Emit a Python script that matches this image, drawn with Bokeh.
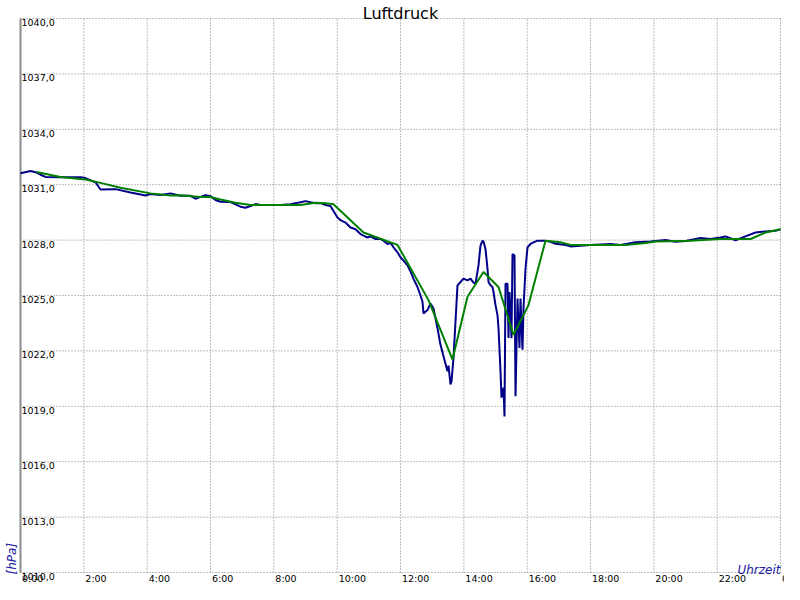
import math
from bokeh.plotting import figure
from bokeh.models import Label
from bokeh.embed import file_html
from bokeh.resources import INLINE

# ---- data ----
title_text = "Luftdruck"
y_label = "[hPa]"
x_label = "Uhrzeit"

x_ticks = [0, 2, 4, 6, 8, 10, 12, 14, 16, 18, 20, 22, 24]
x_tick_labels = ["0:00", "2:00", "4:00", "6:00", "8:00", "10:00", "12:00",
                 "14:00", "16:00", "18:00", "20:00", "22:00", "0:00"]
y_ticks = [1010, 1013, 1016, 1019, 1022, 1025, 1028, 1031, 1034, 1037, 1040]
y_tick_labels = ["1010,0", "1013,0", "1016,0", "1019,0", "1022,0", "1025,0",
                 "1028,0", "1031,0", "1034,0", "1037,0", "1040,0"]

# measured pressure (hours, hPa)
raw_hours = [0.0, 0.316, 0.505, 0.632, 0.789, 1.263, 1.895, 2.053, 2.368, 2.526,
             3.0, 3.474, 3.947, 4.105, 4.421, 4.737, 5.053, 5.368, 5.526, 5.684,
             5.842, 6.0, 6.158, 6.316, 6.632, 6.947, 7.105, 7.263, 7.421, 7.579,
             7.895, 8.211, 8.526, 8.842, 9.0, 9.158, 9.316, 9.474, 9.632, 9.789,
             9.884, 9.947, 10.011, 10.105, 10.263, 10.421, 10.579, 10.737, 10.832, 10.958,
             11.053, 11.211, 11.368, 11.463, 11.589, 11.684, 11.779, 11.905, 12.0, 12.095,
             12.221, 12.316, 12.411, 12.537, 12.632, 12.695, 12.726, 12.853, 12.947, 13.042,
             13.168, 13.263, 13.358, 13.484, 13.516, 13.579, 13.611, 13.674, 13.737, 13.8,
             13.895, 13.989, 14.116, 14.211, 14.305, 14.368, 14.463, 14.526, 14.589, 14.621,
             14.684, 14.747, 14.779, 14.842, 14.905, 14.937, 15.0, 15.063, 15.095, 15.158,
             15.189, 15.253, 15.284, 15.316, 15.379, 15.411, 15.442, 15.505, 15.537, 15.6,
             15.632, 15.695, 15.758, 15.789, 15.853, 15.884, 15.947, 16.011, 16.105, 16.2,
             16.326, 16.579, 16.737, 16.895, 17.21, 17.368, 17.684, 18.0, 18.632, 18.947,
             19.421, 19.895, 20.368, 20.684, 21.0, 21.474, 21.789, 22.105, 22.263, 22.579,
             22.895, 23.211, 23.526, 23.842, 24.0]
raw_hpa = [1031.62, 1031.74, 1031.66, 1031.54, 1031.42, 1031.40, 1031.40, 1031.36, 1031.13, 1030.74,
           1030.76, 1030.58, 1030.42, 1030.49, 1030.44, 1030.53, 1030.40, 1030.40, 1030.24, 1030.34,
           1030.43, 1030.38, 1030.17, 1030.08, 1030.06, 1029.81, 1029.75, 1029.84, 1029.95, 1029.90,
           1029.90, 1029.90, 1029.94, 1030.05, 1030.11, 1030.05, 1030.00, 1030.00, 1029.90, 1029.84,
           1029.58, 1029.40, 1029.22, 1029.08, 1028.95, 1028.68, 1028.59, 1028.33, 1028.24, 1028.14,
           1028.20, 1028.06, 1028.06, 1027.97, 1027.79, 1027.85, 1027.61, 1027.34, 1027.07, 1026.89,
           1026.63, 1026.30, 1025.90, 1025.46, 1025.00, 1024.66, 1024.03, 1024.21, 1024.57, 1024.30,
           1023.23, 1022.33, 1021.71, 1020.90, 1021.20, 1020.19, 1020.35, 1021.62, 1023.59, 1025.55,
           1025.73, 1025.91, 1025.82, 1025.91, 1025.70, 1025.64, 1026.63, 1027.70, 1027.97, 1027.92,
           1027.52, 1026.45, 1025.73, 1025.55, 1025.46, 1025.19, 1024.48, 1023.94, 1023.23, 1020.90,
           1019.47, 1020.01, 1018.45, 1025.64, 1025.64, 1022.70, 1025.19, 1022.69, 1027.25, 1027.16,
           1019.55, 1024.84, 1022.16, 1024.84, 1022.06, 1024.30, 1026.45, 1027.61, 1027.79, 1027.88,
           1027.97, 1027.97, 1027.91, 1027.80, 1027.73, 1027.66, 1027.70, 1027.74, 1027.79, 1027.74,
           1027.88, 1027.93, 1028.00, 1027.91, 1027.95, 1028.11, 1028.06, 1028.14, 1028.20, 1027.99,
           1028.20, 1028.41, 1028.47, 1028.50, 1028.59]

# smoothed pressure (hours, hPa)
avg_hours = [0.505, 1.263, 2.053, 2.526, 3.158, 4.105, 4.737, 5.053, 5.684, 6.0,
             6.316, 6.789, 7.263, 8.842, 9.316, 9.632, 9.884, 10.832, 11.905, 12.884,
             13.642, 14.116, 14.621, 15.095, 15.568, 16.042, 16.579, 17.053, 17.368, 18.316,
             19.105, 19.737, 20.053, 21.158, 22.105, 23.053, 23.526, 24.0]
avg_hpa = [1031.69, 1031.42, 1031.28, 1031.10, 1030.83, 1030.53, 1030.42, 1030.43, 1030.34, 1030.33,
           1030.20, 1030.02, 1029.90, 1029.90, 1030.02, 1029.99, 1029.94, 1028.41, 1027.74, 1024.75,
           1021.53, 1024.93, 1026.27, 1025.46, 1022.87, 1024.48, 1027.97, 1027.88, 1027.74, 1027.74,
           1027.74, 1027.84, 1027.93, 1027.97, 1028.06, 1028.06, 1028.41, 1028.59]

assert len(raw_hours) == len(raw_hpa)
assert len(avg_hours) == len(avg_hpa)

FONT = "DejaVu Sans"
LABEL_BLUE = "#2020a0"

# ---- layout: the frame covers the whole canvas; the data area sits inside it ----
W, H = 784, 584
PAD_L, PAD_R, PAD_T, PAD_B = 20, 4, 18, 12
x0, x1 = x_ticks[0], x_ticks[-1]
y0, y1 = y_ticks[0], y_ticks[-1]
kx = (x1 - x0) / (W - PAD_L - PAD_R)
ky = (y1 - y0) / (H - PAD_T - PAD_B)

p = figure(width=W, height=H,
           x_range=(x0 - PAD_L * kx, x1 + PAD_R * kx),
           y_range=(y0 - PAD_B * ky, y1 + PAD_T * ky),
           output_backend="svg", toolbar_location=None,
           min_border=0, min_border_left=0, min_border_right=0,
           min_border_top=0, min_border_bottom=0)
p.xaxis.visible = False
p.yaxis.visible = False
p.grid.visible = False
p.outline_line_color = None
p.background_fill_color = "white"
p.border_fill_color = "white"

# grid (dotted)
p.segment(x0=x_ticks, y0=[y0] * len(x_ticks), x1=x_ticks, y1=[y1] * len(x_ticks),
          line_color="#808080", line_width=1, line_dash="1 2")
p.segment(x0=[x0] * len(y_ticks), y0=y_ticks, x1=[x1] * len(y_ticks), y1=y_ticks,
          line_color="#808080", line_width=1, line_dash="1 2")
# left axis line
p.segment(x0=[x0], y0=[y0], x1=[x0], y1=[y1], line_color="#8c8c8c", line_width=2)

p.line(raw_hours, raw_hpa, line_color="#000088", line_width=2)
p.line(avg_hours, avg_hpa, line_color="#008000", line_width=2)

# tick labels
for t, s in zip(y_ticks, y_tick_labels):
    p.add_layout(Label(x=x0, y=t, x_offset=1, y_offset=-0.5, text=s, text_font=FONT,
                       text_font_size="9.5px", text_color="black",
                       text_baseline="top", text_align="left"))
for t, s in zip(x_ticks, x_tick_labels):
    p.add_layout(Label(x=t, y=y0, x_offset=1.5, y_offset=-0.5, text=s, text_font=FONT,
                       text_font_size="9.5px", text_color="black",
                       text_baseline="top", text_align="left"))

# title and axis labels
p.add_layout(Label(x=(x0 + x1) / 2, y=y1, y_offset=5, text=title_text, text_font=FONT,
                   text_font_size="16px", text_color="black",
                   text_baseline="alphabetic", text_align="center"))
p.add_layout(Label(x=x0, y=y0, x_offset=-9, y_offset=-2, text=y_label, text_font=FONT,
                   text_font_size="12px", text_font_style="italic", text_color=LABEL_BLUE,
                   text_baseline="alphabetic", text_align="left", angle=math.pi / 2))
p.add_layout(Label(x=x1, y=y0, x_offset=0, y_offset=3, text=x_label, text_font=FONT,
                   text_font_size="12px", text_font_style="italic", text_color=LABEL_BLUE,
                   text_baseline="alphabetic", text_align="right"))

open("out.html", "w").write(file_html(p, INLINE))
